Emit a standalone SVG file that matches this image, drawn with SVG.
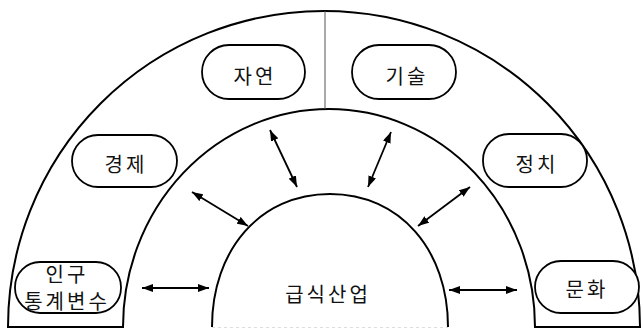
<svg xmlns="http://www.w3.org/2000/svg" width="643" height="329" viewBox="0 0 643 329">
  <style>
    .band { fill: none; stroke: #000; stroke-width: 2; }
    .pill { fill: #fff; stroke: #000; stroke-width: 1.8; }
    .lbl { font-family: "Noto Sans CJK KR", "Noto Sans", sans-serif; font-size: 20px; fill: #111; text-anchor: middle; letter-spacing: 3px; }
    .arr { stroke: #000; stroke-width: 1.8; fill: none; marker-start: url(#ah); marker-end: url(#ah); }
  </style>
  <defs>
    <marker id="ah" markerUnits="userSpaceOnUse" markerWidth="11" markerHeight="8" refX="11" refY="4" orient="auto-start-reverse">
      <path d="M0,0 L11,4 L0,8 z" fill="#000"/>
    </marker>
  </defs>
  <rect width="643" height="329" fill="#fff"/>

  <g id="bands">
    <path class="band" d="M8,327 A316,316 0 0 1 640,327 L535,327 A206,218 0 0 0 123,327 Z"/>
    <path class="band" d="M212,327 C212,250 260,194 330,194 C400,194 448,250 448,327"/>
    <line x1="325" y1="11" x2="325" y2="109" stroke="#555" stroke-width="1"/>
    <line x1="212" y1="327.5" x2="448" y2="327.5" stroke="#ddd" stroke-width="1" stroke-dasharray="3 3"/>
  </g>

  <g id="node-center">
    <text class="lbl" x="328" y="302" font-size="21">급식산업</text>
  </g>

  <g id="node-jayeon">
    <rect class="pill" x="202" y="45" width="103" height="54" rx="27"/>
    <text class="lbl" x="255" y="84">자연</text>
  </g>
  <g id="node-gisul">
    <rect class="pill" x="352" y="45" width="104" height="54" rx="27"/>
    <text class="lbl" x="407" y="84">기술</text>
  </g>
  <g id="node-gyeongje">
    <rect class="pill" x="72" y="135" width="105" height="52" rx="26"/>
    <text class="lbl" x="126" y="172">경제</text>
  </g>
  <g id="node-jeongchi">
    <rect class="pill" x="483" y="134" width="104" height="53" rx="26"/>
    <text class="lbl" x="537" y="172">정치</text>
  </g>
  <g id="node-ingu">
    <rect class="pill" x="15" y="262" width="106" height="51" rx="25"/>
    <text class="lbl" x="67" y="282" font-size="17.5" letter-spacing="2.5">인구</text>
    <text class="lbl" x="67" y="309" font-size="17.5" letter-spacing="2.2">통계변수</text>
  </g>
  <g id="node-munhwa">
    <rect class="pill" x="535" y="261" width="104" height="52" rx="26"/>
    <text class="lbl" x="587" y="297">문화</text>
  </g>

  <g id="connectors">
    <line class="arr" x1="142" y1="288" x2="209" y2="288"/>
    <line class="arr" x1="449" y1="290" x2="517" y2="290"/>
    <line class="arr" x1="192" y1="192" x2="248" y2="226"/>
    <line class="arr" x1="270" y1="130" x2="297" y2="187"/>
    <line class="arr" x1="391" y1="132" x2="368" y2="187"/>
    <line class="arr" x1="470" y1="187" x2="418" y2="226"/>
  </g>
</svg>
